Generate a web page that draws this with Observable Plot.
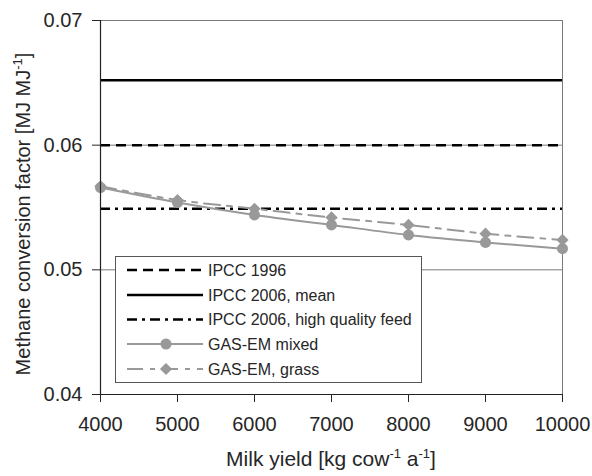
<!DOCTYPE html>
<html>
<head>
<meta charset="utf-8">
<script src="https://cdn.jsdelivr.net/npm/d3@7"></script>
<script src="https://cdn.jsdelivr.net/npm/@observablehq/plot@0.6"></script>
<style>
  html, body { margin: 0; padding: 0; background: white; }
  svg { display: block; }
</style>
</head>
<body>
<div id="chart"></div>
<script>
// ---- data ----
const milkYield = [4000, 5000, 6000, 7000, 8000, 9000, 10000];
const gasEmMixed = [0.0566, 0.0554, 0.0544, 0.0536, 0.0528, 0.0522, 0.0517];
const gasEmGrass = [0.0567, 0.0556, 0.0549, 0.0542, 0.0536, 0.0529, 0.0524];
const ipcc1996 = [0.060];
const ipcc2006Mean = [0.0652];
const ipcc2006High = [0.0549];
const yTicks = [0.04, 0.05, 0.06, 0.07];
const xTicks = [4000, 5000, 6000, 7000, 8000, 9000, 10000];
const legendLabels = ["IPCC 1996", "IPCC 2006, mean", "IPCC 2006, high quality feed", "GAS-EM mixed", "GAS-EM, grass"];

const mixed = milkYield.map((x, i) => ({x, y: gasEmMixed[i]}));
const grass = milkYield.map((x, i) => ({x, y: gasEmGrass[i]}));

const GRAY = "#999999";
const TEXT = "#262626";
const FONT = "'Liberation Sans', Arial, sans-serif";

const chart = Plot.plot({
  width: 592,
  height: 476,
  marginLeft: 100,
  marginRight: 30,
  marginTop: 20,
  marginBottom: 82,
  x: {domain: [4000, 10000]},
  y: {domain: [0.04, 0.07]},
  style: {fontFamily: FONT, fontSize: "20px", color: TEXT, background: "white"},
  marks: [
    Plot.gridY([0.05, 0.06, 0.07], {stroke: "#7a7a7a", strokeOpacity: 1, strokeWidth: 1}),
    Plot.ruleX([10000], {stroke: "#7a7a7a", strokeWidth: 1}),
    Plot.ruleY(ipcc1996, {stroke: "black", strokeWidth: 2.5, strokeDasharray: "10,6"}),
    Plot.ruleY(ipcc2006Mean, {stroke: "black", strokeWidth: 2.5}),
    Plot.ruleY(ipcc2006High, {stroke: "black", strokeWidth: 2.5, strokeDasharray: "10,5,3,5"}),
    Plot.line(grass, {x: "x", y: "y", stroke: GRAY, strokeWidth: 2, strokeDasharray: "16,7,5,7", curve: "catmull-rom"}),
    Plot.line(mixed, {x: "x", y: "y", stroke: GRAY, strokeWidth: 2, curve: "catmull-rom"}),
    Plot.dot(grass, {x: "x", y: "y", fill: GRAY, symbol: "diamond2", r: 5.5}),
    Plot.dot(mixed, {x: "x", y: "y", fill: GRAY, r: 5.5}),
    Plot.ruleX([4000], {stroke: "#222", strokeWidth: 1.2}),
    Plot.ruleY([0.04], {stroke: "#222", strokeWidth: 1.2}),
    Plot.axisY(yTicks, {tickFormat: d => d.toFixed(2), tickSize: 8, tickPadding: 10, label: null, fontSize: 20}),
    Plot.axisX(xTicks, {tickFormat: d => String(d), tickSize: 8, tickPadding: 14, label: null, fontSize: 20})
  ]
});

document.getElementById("chart").appendChild(chart);

const svg = d3.select(chart);

// axis titles with superscripts
const yt = svg.append("text")
  .attr("transform", "translate(30,214) rotate(-90)")
  .attr("text-anchor", "middle")
  .attr("font-family", FONT).attr("font-size", 20).attr("fill", TEXT);
yt.append("tspan").text("Methane conversion factor [MJ MJ");
yt.append("tspan").attr("dy", -8).attr("font-size", 13).text("-1");
yt.append("tspan").attr("dy", 8).text("]");

const xt = svg.append("text")
  .attr("x", 331).attr("y", 466)
  .attr("text-anchor", "middle")
  .attr("font-family", FONT).attr("font-size", 21).attr("fill", TEXT);
xt.append("tspan").text("Milk yield [kg cow");
xt.append("tspan").attr("dy", -8).attr("font-size", 13).text("-1");
xt.append("tspan").attr("dy", 8).text(" a");
xt.append("tspan").attr("dy", -8).attr("font-size", 13).text("-1");
xt.append("tspan").attr("dy", 8).text("]");

// legend
const lg = svg.append("g");
lg.append("rect").attr("x", 115.5).attr("y", 256.5).attr("width", 306).attr("height", 126)
  .attr("fill", "white").attr("stroke", "#555").attr("stroke-width", 1);
const rows = [270, 295, 319.5, 344, 369];
const styles = [
  {stroke: "black", dash: "10,6", w: 2.5},
  {stroke: "black", dash: null, w: 2.5},
  {stroke: "black", dash: "10,5,3,5", w: 2.5},
  {stroke: GRAY, dash: null, w: 2, marker: "circle"},
  {stroke: GRAY, dash: "16,7,5,7", w: 2, marker: "diamond"}
];
legendLabels.forEach((lab, i) => {
  const y = rows[i], s = styles[i];
  lg.append("line").attr("x1", 127).attr("x2", 203).attr("y1", y).attr("y2", y)
    .attr("stroke", s.stroke).attr("stroke-width", s.w)
    .attr("stroke-dasharray", s.dash);
  if (s.marker === "circle") {
    lg.append("circle").attr("cx", 166).attr("cy", y).attr("r", 5.5).attr("fill", GRAY);
  } else if (s.marker === "diamond") {
    lg.append("path").attr("d", d3.symbol(d3.symbolDiamond2, 95)()).attr("transform", `translate(166,${y})`).attr("fill", GRAY);
  }
  lg.append("text").attr("x", 208).attr("y", y).attr("dy", "0.35em")
    .attr("text-anchor", "start")
    .attr("font-family", FONT).attr("font-size", 16).attr("fill", TEXT).text(lab);
});
</script>
</body>
</html>
